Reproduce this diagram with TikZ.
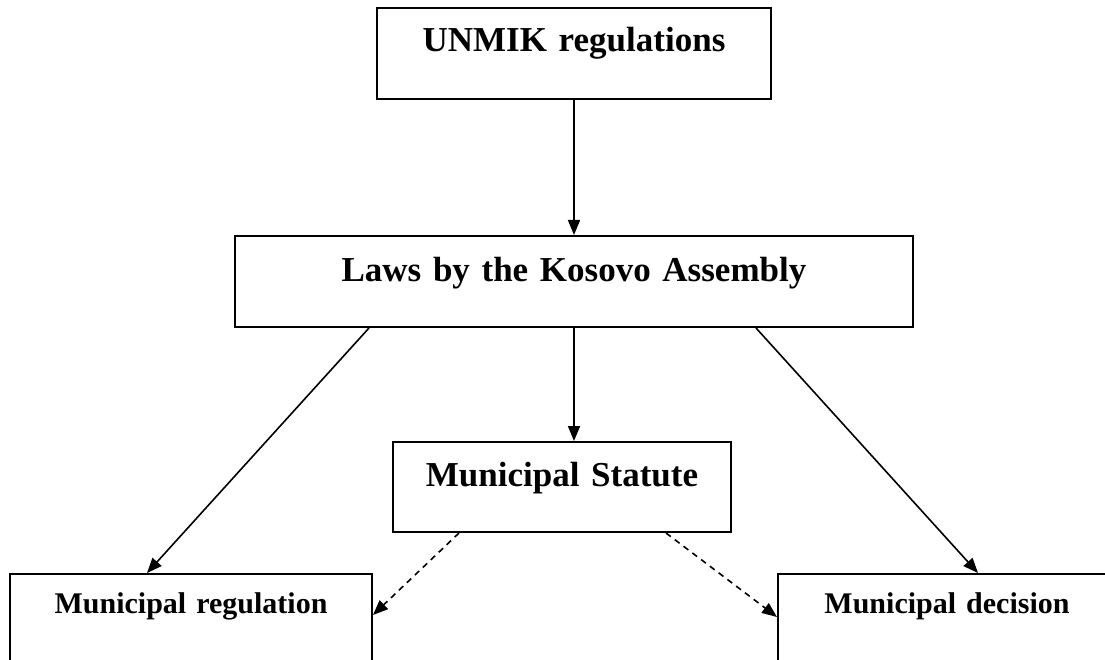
\documentclass[tikz,border=0pt]{standalone}
\usepackage{fontspec}
\setmainfont{Liberation Serif}[WordSpace=0.75]
\usepackage{tikz}
\usetikzlibrary{arrows.meta, positioning, calc}
\tikzstyle{box}   = [rectangle, draw=black, line width=2pt, inner sep=0pt, align=center, font=\bfseries\fontsize{35}{42}\selectfont]
\tikzstyle{smallbox} = [box, font=\bfseries\fontsize{30}{36}\selectfont]
\tikzstyle{arrow} = [line width=1.6pt, -{Triangle[length=15pt,width=12pt]}]
\tikzstyle{dasharrow} = [arrow, dash pattern=on 6pt off 5pt]

\begin{document}
\begin{tikzpicture}[x=1pt, y=-1pt]
  \clip (0,0) rectangle (1105,660);

  % Top level
  \node[box, text width=394pt, text height=44pt, text depth=47pt] (unmik) at (574,53.5) {UNMIK regulations};

  % Laws and statute
  \node[box, text width=678pt, text height=45pt, text depth=46pt, below=135pt of unmik] (laws) {Laws by the Kosovo Assembly};
  \node[box, text width=338pt, text height=44pt, text depth=46pt, below=113pt of laws, xshift=-12pt] (statute) {Municipal Statute};

  % Municipal acts
  \node[smallbox, text width=362pt, text height=39pt, text depth=61pt, anchor=north west] (regulation) at (9,573) {Municipal regulation};
  \node[smallbox, text width=338pt, text height=39pt, text depth=61pt, anchor=north west] (decision) at (777,573) {Municipal decision};

  % Flows
  \draw[arrow] (unmik) -- (laws);
  \draw[arrow] (laws.south) -- (laws.south |- statute.north);
  \draw[arrow] ($(laws.south west)+(135,0)$) -- ($(regulation.north west)+(138,0)$);
  \draw[arrow] ($(laws.south east)+(-158,0)$) -- ($(decision.north west)+(201,0)$);
  \draw[dasharrow] ($(statute.south west)+(67,0)$) -- ($(regulation.north east)+(0,42)$);
  \draw[dasharrow] ($(statute.south east)+(-66,0)$) -- ($(decision.north west)+(0,44)$);
\end{tikzpicture}
\end{document}
